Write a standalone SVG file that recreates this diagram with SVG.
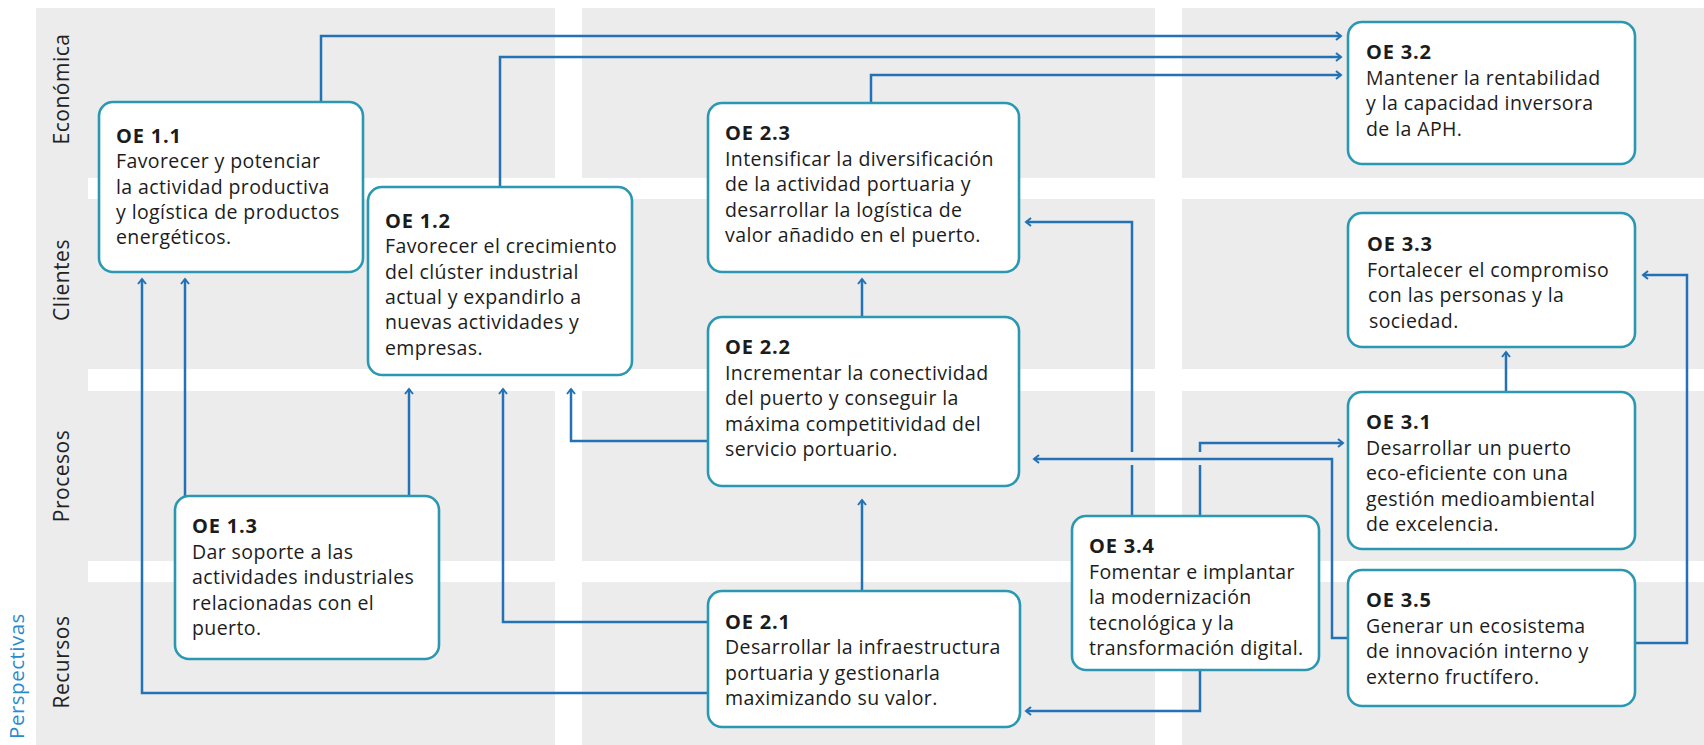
<svg xmlns="http://www.w3.org/2000/svg" width="1704" height="745" viewBox="0 0 1704 745">
<defs>
<style>
.bg{fill:#ececec}
.box{fill:#ffffff;stroke:#2a98b3;stroke-width:2.6}
.t{font-family:"Open Sans","Liberation Sans",sans-serif;font-size:19.5px;letter-spacing:0.4px;fill:#1c1c1c}
.h{font-weight:bold;font-size:20px;letter-spacing:0.8px}
.ax{font-family:"Open Sans","Liberation Sans",sans-serif;font-size:21px;letter-spacing:0.5px;fill:#222222;text-anchor:middle}
.px{font-family:"Open Sans","Liberation Sans",sans-serif;font-size:20.5px;letter-spacing:0.5px;fill:#2a8bcb;text-anchor:middle}
.c{fill:none;stroke:#2372b5;stroke-width:2.5}
.a{marker-end:url(#arr)}
</style>
<marker id="arr" markerUnits="userSpaceOnUse" markerWidth="10" markerHeight="12" refX="6" refY="5" orient="auto">
<path d="M1,1 L6,5 L1,9" fill="none" stroke="#2372b5" stroke-width="2"/>
</marker>
</defs>

<g id="background">
<rect class="bg" x="36" y="8" width="52" height="737"/>
<rect class="bg" x="88" y="8" width="467" height="170"/>
<rect class="bg" x="582" y="8" width="573" height="170"/>
<rect class="bg" x="1182" y="8" width="522" height="170"/>
<rect class="bg" x="88" y="199" width="467" height="170"/>
<rect class="bg" x="582" y="199" width="573" height="170"/>
<rect class="bg" x="1182" y="199" width="522" height="170"/>
<rect class="bg" x="88" y="391" width="467" height="170"/>
<rect class="bg" x="582" y="391" width="573" height="170"/>
<rect class="bg" x="1182" y="391" width="522" height="170"/>
<rect class="bg" x="88" y="582" width="467" height="163"/>
<rect class="bg" x="582" y="582" width="573" height="163"/>
<rect class="bg" x="1182" y="582" width="522" height="163"/>
</g>

<g id="axis-labels">
<text class="ax" transform="translate(69,89) rotate(-90)">Económica</text>
<text class="ax" transform="translate(69,280) rotate(-90)">Clientes</text>
<text class="ax" transform="translate(69,476) rotate(-90)">Procesos</text>
<text class="ax" transform="translate(69,662) rotate(-90)">Recursos</text>
<text class="px" transform="translate(24,676) rotate(-90)">Perspectivas</text>
</g>

<g id="connectors">
<polyline class="c a" points="321,102 321,36 1341,36"/>
<polyline class="c a" points="500,187 500,57 1341,57"/>
<polyline class="c a" points="871,103 871,75 1341,75"/>
<polyline class="c a" points="185,496 185,279"/>
<polyline class="c a" points="409,496 409,389"/>
<polyline class="c a" points="708,693 142,693 142,279"/>
<polyline class="c a" points="708,622 503,622 503,389"/>
<polyline class="c a" points="708,441 571,441 571,389"/>
<polyline class="c a" points="862,317 862,279"/>
<polyline class="c a" points="862,591 862,500"/>
<polyline class="c" points="1132,515 1132,465"/>
<polyline class="c a" points="1132,452 1132,222 1026,222"/>
<polyline class="c" points="1200,515 1200,465"/>
<polyline class="c a" points="1200,452 1200,443 1343,443"/>
<polyline class="c a" points="1348,638 1332,638 1332,459 1034,459"/>
<polyline class="c a" points="1200,670 1200,711 1026,711"/>
<polyline class="c a" points="1506,392 1506,352"/>
<polyline class="c a" points="1635,643 1687,643 1687,275 1643,275"/>
</g>

<g id="oe11">
<rect class="box" x="99" y="102" width="264" height="170" rx="14"/>
<text class="t" x="116" y="143"><tspan class="h">OE 1.1</tspan><tspan x="116" dy="25.3">Favorecer y potenciar</tspan><tspan x="116" dy="25.3">la actividad productiva</tspan><tspan x="116" dy="25.3">y logística de productos</tspan><tspan x="116" dy="25.3">energéticos.</tspan></text>
</g>
<g id="oe12">
<rect class="box" x="368" y="187" width="264" height="188" rx="14"/>
<text class="t" x="385" y="228"><tspan class="h">OE 1.2</tspan><tspan x="385" dy="25.3">Favorecer el crecimiento</tspan><tspan x="385" dy="25.3">del clúster industrial</tspan><tspan x="385" dy="25.3">actual y expandirlo a</tspan><tspan x="385" dy="25.3">nuevas actividades y</tspan><tspan x="385" dy="25.3">empresas.</tspan></text>
</g>
<g id="oe13">
<rect class="box" x="175" y="496" width="264" height="163" rx="14"/>
<text class="t" x="192" y="533"><tspan class="h">OE 1.3</tspan><tspan x="192" dy="25.6">Dar soporte a las</tspan><tspan x="192" dy="25.6">actividades industriales</tspan><tspan x="192" dy="25.6">relacionadas con el</tspan><tspan x="192" dy="25.6">puerto.</tspan></text>
</g>
<g id="oe23">
<rect class="box" x="708" y="103" width="311" height="169" rx="14"/>
<text class="t" x="725" y="140"><tspan class="h">OE 2.3</tspan><tspan x="725" dy="25.6">Intensificar la diversificación</tspan><tspan x="725" dy="25.6">de la actividad portuaria y</tspan><tspan x="725" dy="25.6">desarrollar la logística de</tspan><tspan x="725" dy="25.6">valor añadido en el puerto.</tspan></text>
</g>
<g id="oe22">
<rect class="box" x="708" y="317" width="311" height="169" rx="14"/>
<text class="t" x="725" y="354"><tspan class="h">OE 2.2</tspan><tspan x="725" dy="25.6">Incrementar la conectividad</tspan><tspan x="725" dy="25.6">del puerto y conseguir la</tspan><tspan x="725" dy="25.6">máxima competitividad del</tspan><tspan x="725" dy="25.6">servicio portuario.</tspan></text>
</g>
<g id="oe21">
<rect class="box" x="708" y="591" width="312" height="136" rx="14"/>
<text class="t" x="725" y="629"><tspan class="h">OE 2.1</tspan><tspan x="725" dy="25.3">Desarrollar la infraestructura</tspan><tspan x="725" dy="25.3">portuaria y gestionarla</tspan><tspan x="725" dy="25.3">maximizando su valor.</tspan></text>
</g>
<g id="oe32">
<rect class="box" x="1348" y="22" width="287" height="142" rx="14"/>
<text class="t" x="1366" y="59"><tspan class="h">OE 3.2</tspan><tspan x="1366" dy="25.6">Mantener la rentabilidad</tspan><tspan x="1366" dy="25.6">y la capacidad inversora</tspan><tspan x="1366" dy="25.6">de la APH.</tspan></text>
</g>
<g id="oe33">
<rect class="box" x="1348" y="213" width="287" height="134" rx="14"/>
<text class="t" x="1367" y="251"><tspan class="h">OE 3.3</tspan><tspan x="1367" dy="25.6">Fortalecer el compromiso</tspan><tspan x="1368" dy="25.6">con las personas y la</tspan><tspan x="1369" dy="25.6">sociedad.</tspan></text>
</g>
<g id="oe31">
<rect class="box" x="1348" y="392" width="287" height="157" rx="14"/>
<text class="t" x="1366" y="429"><tspan class="h">OE 3.1</tspan><tspan x="1366" dy="25.6">Desarrollar un puerto</tspan><tspan x="1366" dy="25.6">eco-eficiente con una</tspan><tspan x="1366" dy="25.6">gestión medioambiental</tspan><tspan x="1366" dy="25.6">de excelencia.</tspan></text>
</g>
<g id="oe35">
<rect class="box" x="1348" y="570" width="287" height="136" rx="14"/>
<text class="t" x="1366" y="607"><tspan class="h">OE 3.5</tspan><tspan x="1366" dy="25.6">Generar un ecosistema</tspan><tspan x="1366" dy="25.6">de innovación interno y</tspan><tspan x="1366" dy="25.6">externo fructífero.</tspan></text>
</g>
<g id="oe34">
<rect class="box" x="1072" y="516" width="247" height="154" rx="14"/>
<text class="t" x="1089" y="553"><tspan class="h">OE 3.4</tspan><tspan x="1089" dy="25.6">Fomentar e implantar</tspan><tspan x="1089" dy="25.6">la modernización</tspan><tspan x="1089" dy="25.6">tecnológica y la</tspan><tspan x="1089" dy="25.6">transformación digital.</tspan></text>
</g>
</svg>
